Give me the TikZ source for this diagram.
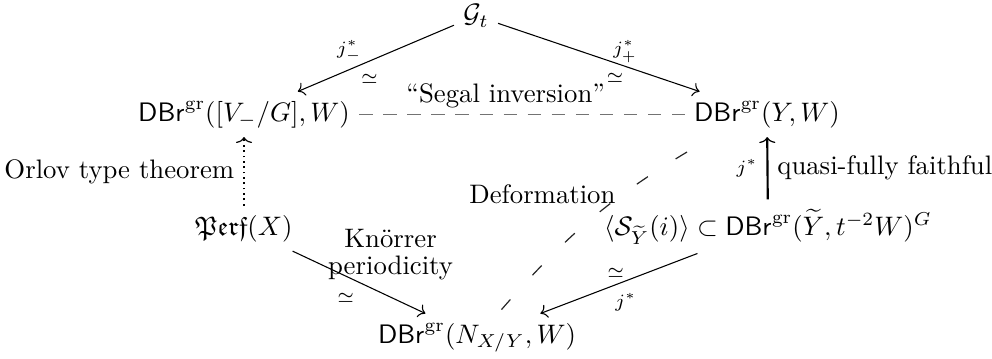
\documentclass[tikz,border=0pt]{standalone}
\usepackage{amsmath,amssymb}
\usepackage{tikz-cd}
\usetikzlibrary{arrows.meta}
\begin{document}
\begin{tikzpicture}[x=0.374pt,y=0.374pt,
  obj/.style={anchor=base},
  arr/.style={-{cm to}, line width=0.4pt},
  thickarr/.style={-{To[line width=0.45pt,length=2.2pt,width=6pt]}, line width=0.8pt},
  dotarr/.style={-{To[line width=0.45pt,length=2.2pt,width=6pt]}, line width=0.7pt, dash pattern=on 0.7pt off 1.3pt},
  lab/.style={inner sep=0pt},
  segal/.style={draw=black!55, line width=0.4pt, dash pattern=on 5pt off 4pt},
  deform/.style={draw=black!85, line width=0.45pt, dash pattern=on 5pt off 12.3pt},
]
\useasboundingbox (0,0) rectangle (992,358);
\node[obj] (Gt) at (476,335) {$\mathcal{G}_t$};
\node[obj] (L) at (244,237) {$\mathsf{DBr}^{\mathrm{gr}}([V_-/G],W)$};
\node[obj] (R) at (767,237) {$\mathsf{DBr}^{\mathrm{gr}}(Y,W)$};
\node[obj] (P) at (244,123) {$\mathfrak{Perf}(X)$};
\node[obj] (S) at (768,123) {$\langle\mathcal{S}_{\widetilde{Y}}(i)\rangle\subset\mathsf{DBr}^{\mathrm{gr}}(\widetilde{Y},t^{-2}W)^G$};
\node[obj] (N) at (477,15) {$\mathsf{DBr}^{\mathrm{gr}}(N_{X/Y},W)$};

\draw[arr] (Gt) -- (L)
  node[lab,pos=.67,yshift=6.9pt] (jm) {$\scriptstyle j_-^*$}
  node[lab,pos=.54,yshift=-6.7pt] (eqL) {$\scriptstyle\simeq$};
\draw[arr] (Gt) -- (R)
  node[lab,pos=.63,yshift=5.6pt] (jp) {$\scriptstyle j_+^*$}
  node[lab,pos=.58,yshift=-5.5pt] (eqR) {$\scriptstyle\simeq$};
\draw[segal] (L) -- (R)
  node[pos=.45,above,inner sep=2pt] (seg) {“Segal inversion”};
\draw[dotarr] (P) -- (L)
  node[pos=.5,left] (orl) {Orlov type theorem};
\draw[thickarr] (S) -- (R)
  node[pos=.5,left] (jv) {$\scriptstyle j^*$}
  node[pos=.5,right,inner sep=2pt,xshift=1.3pt] (qff) {quasi-fully faithful};
\draw[arr] (P) -- (N)
  node[pos=.5,align=center,xshift=11.8pt,yshift=10.4pt] (kn) {Knörrer\\[-2pt]periodicity}
  node[lab,pos=.4,yshift=-8.2pt] (eqP) {$\scriptstyle\simeq$};
\draw[arr] (S) -- (N)
  node[lab,pos=.52,yshift=4.4pt] (eqS) {$\scriptstyle\simeq$}
  node[lab,pos=.457,yshift=-8.0pt] (jS) {$\scriptstyle j^*$};
\coordinate (defTop) at (687,206);
\draw[deform] (defTop) to[out=211,in=49]
  node[pos=.5,xshift=-16pt,yshift=11.3pt,inner sep=1pt] (def) {Deformation} (N);
\end{tikzpicture}
\end{document}
